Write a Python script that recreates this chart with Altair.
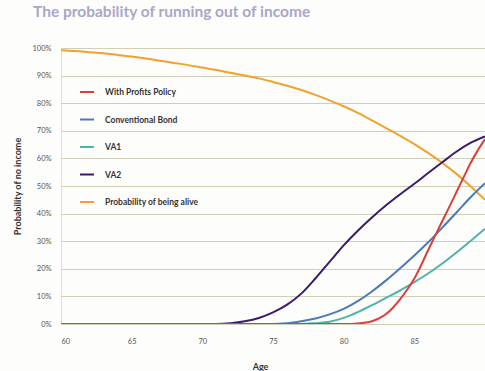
import altair as alt
import pandas as pd

ages = list(range(60, 91))
alive = [99.2, 98.9, 98.5, 98.1, 97.5, 96.9, 96.2, 95.4, 94.6, 93.8, 92.9, 92.0, 91.0, 90.0, 89.0,
         87.7, 86.3, 84.8, 83.0, 81.0, 78.9, 76.5, 73.8, 71.0, 68.2, 65.2, 61.9, 58.3, 54.3, 49.8, 45.0]
va2 = [0]*12 + [0.3, 1.0, 2.2, 4.2, 7.0, 11.0, 16.5, 22.5, 28.5, 33.8, 38.6, 43.0, 47.0, 50.8,
                54.8, 58.7, 62.5, 65.7, 68.0]
bond = [0]*16 + [0.3, 1.0, 2.0, 3.5, 5.5, 8.3, 11.8, 15.8, 20.2, 24.8, 29.7, 35.0, 40.5, 46.0, 51.0]
va1 = [0]*18 + [0.3, 0.8, 2.2, 4.3, 6.8, 9.5, 12.2, 15.2, 18.4, 22.0, 26.0, 30.2, 34.5]

red_ages = [60, 65, 70, 75, 80, 81, 82, 82.5, 83, 83.5, 84, 84.5, 85, 85.5, 86, 86.5, 87, 87.5,
            88, 88.5, 89, 89.5, 90]
with_profits = [0, 0, 0, 0, 0, 0.2, 1.0, 2.0, 3.6, 6.0, 9.0, 12.5, 16.5, 21.5, 27.0, 32.3, 37.5,
                42.7, 48.0, 53.3, 58.5, 63.0, 67.0]

series_names = ["With Profits Policy", "Conventional Bond", "VA1", "VA2", "Probability of being alive"]
series_colors = ["#d8403a", "#4a7ab8", "#4fb3a6", "#3b1a6c", "#f0a32a"]
draw_order = ["Probability of being alive", "VA2", "Conventional Bond", "VA1", "With Profits Policy"]

rows = []
for name, xs, ys in [
    ("Probability of being alive", ages, alive),
    ("VA2", ages, va2),
    ("Conventional Bond", ages, bond),
    ("VA1", ages, va1),
    ("With Profits Policy", red_ages, with_profits),
]:
    for a, v in zip(xs, ys):
        rows.append({"series": name, "age": a, "p": v / 100.0, "order": draw_order.index(name)})
df = pd.DataFrame(rows)

chart = alt.Chart(df).mark_line(strokeWidth=2, interpolate="monotone", clip=True).encode(
    x=alt.X("age:Q",
            scale=alt.Scale(domain=[60, 90], nice=False, zero=False),
            axis=alt.Axis(values=[60, 65, 70, 75, 80, 85], grid=False, domain=False, ticks=False,
                          labelFontSize=7.5, labelColor="#555555", labelPadding=13,
                          title="Age", titleFontSize=9, titleFontWeight="bold", titleColor="#333333",
                          titlePadding=18, titleX=199, labelFont="Lato", titleFont="Lato")),
    y=alt.Y("p:Q",
            scale=alt.Scale(domain=[0, 1], nice=False),
            axis=alt.Axis(values=[i / 10 for i in range(11)], format=".0%", grid=True,
                          gridColor="#cfcfb8", gridWidth=1, domain=False, ticks=False,
                          labelFontSize=7.5, labelColor="#555555", labelPadding=10,
                          title="Probability of no income", titleFontSize=9, titleFontWeight="bold",
                          titleColor="#333333", titlePadding=9, labelFont="Lato", titleFont="Lato")),
    color=alt.Color("series:N",
                    scale=alt.Scale(domain=series_names, range=series_colors),
                    legend=alt.Legend(orient="none", legendX=18, legendY=36, title=None,
                                      symbolType="stroke", symbolStrokeWidth=2, symbolSize=196,
                                      labelFontSize=8.5, labelFontWeight="bold", labelColor="#333333",
                                      labelFont="Lato", labelOffset=10, rowPadding=14.5)),
    order=alt.Order("order:Q"),
    detail="series:N",
).properties(
    width=424, height=276,
    title=alt.TitleParams("The probability of running out of income", anchor="start", frame="group",
                          dx=-28, offset=24, fontSize=15.5, fontWeight="bold", color="#a9a7c9",
                          font="Lato"),
    padding={"left": 61, "top": 48, "right": 0, "bottom": 47},
    autosize=alt.AutoSizeParams(type="none"),
).configure_view(
    fill="#e8ebb1", stroke=None
).configure(background="#fdfdfb")

chart.save("out.html", embed_options={"renderer": "svg", "actions": False})
